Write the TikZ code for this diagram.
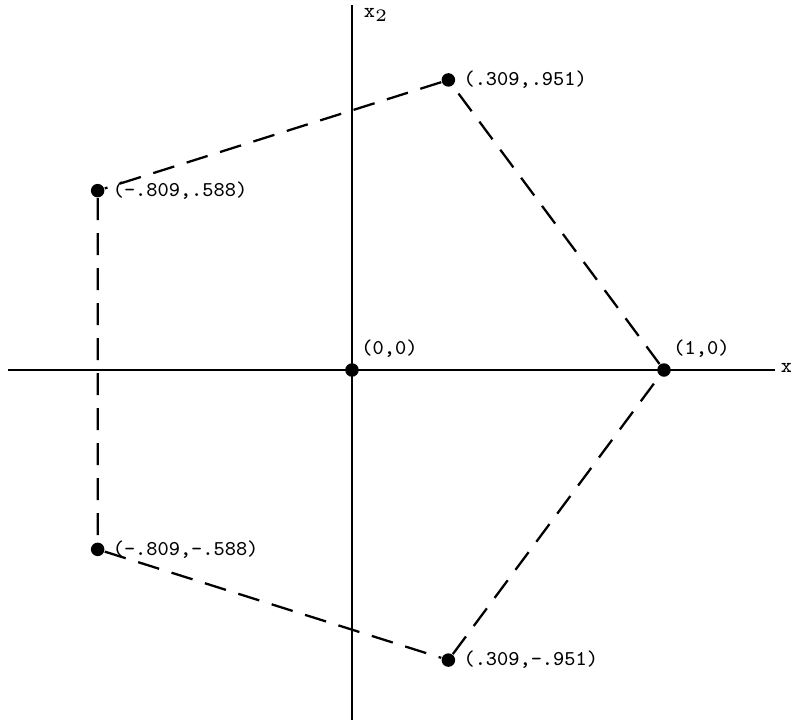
\documentclass[tikz,border=0pt]{standalone}
\usetikzlibrary{positioning}
\begin{document}
\begin{tikzpicture}[x=3.12cm,y=3.05cm,
  pt/.style={circle,fill,inner sep=0pt,minimum size=0.135cm},
  lbl/.style={font=\fontsize{6}{7}\selectfont\ttfamily,inner sep=1pt},
  edge/.style={line width=0.65pt,dash pattern=on 0.22cm off 0.13cm}]
\useasboundingbox (-1.128,-1.170) rectangle (1.407,1.213);

% axes
\coordinate (xl) at (-1.103,0);
\coordinate (xr) at (1.356,0);
\coordinate (yb) at (0,-1.148);
\coordinate (yt) at (0,1.197);
\draw[line width=0.75pt] (xl)--(xr);
\draw[line width=0.75pt] (yb)--(yt);
\node[lbl,anchor=west,inner sep=0pt] (xlab) at (1.372,0.008) {x};
\node[lbl,anchor=west] (ylab) at (0.025,1.165) {x$_{\scriptscriptstyle 2}$};

% points
\node[pt] (o) at (0,0) {};
\node[pt] (p0) at (1,0) {};
\node[pt] (p1) at (0.309,0.951) {};
\node[pt] (p2) at (-0.815,0.588) {};
\node[pt] (p3) at (-0.815,-0.588) {};
\node[pt] (p4) at (0.309,-0.951) {};

\node[lbl,above right=1pt and 0pt of o] (lo) {(0,0)};
\node[lbl,above right=1pt and 0pt of p0] (l0) {(1,0)};
\node[lbl,right=1pt of p1] (l1) {(.309,.951)};
\node[lbl,right=1pt of p2] (l2) {(-.809,.588)};
\node[lbl,right=1pt of p3] (l3) {(-.809,-.588)};
\node[lbl,right=1pt of p4] (l4) {(.309,-.951)};

\draw[edge] (p0)--(p1)--(p2)--(p3)--(p4)--(p0);
\end{tikzpicture}
\end{document}
